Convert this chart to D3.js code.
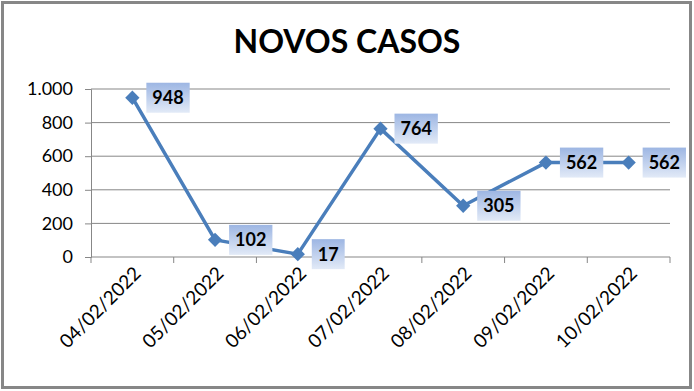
<!DOCTYPE html>
<html>
<head>
<meta charset="utf-8">
<script src="https://cdn.jsdelivr.net/npm/d3@7"></script>
<style>
    body { margin: 0; background: #fff; }
    svg { display: block; }
</style>
</head>
<body>
<div id="chart"></div>
<script>
const dates = ["04/02/2022", "05/02/2022", "06/02/2022", "07/02/2022", "08/02/2022", "09/02/2022", "10/02/2022"];
const casos = [948, 102, 17, 764, 305, 562, 562];
const yTicks = [0, 200, 400, 600, 800, 1000];

const width = 694;
const height = 391;
const font = "Lato, 'Open Sans', sans-serif";

const svg = d3.select("#chart")
    .append("svg")
    .attr("width", width)
    .attr("height", height);

const defs = svg.append("defs");
const grad = defs.append("linearGradient")
    .attr("id", "lblGrad")
    .attr("x1", 0).attr("y1", 0)
    .attr("x2", 0).attr("y2", 1);
grad.append("stop").attr("offset", "0%").attr("stop-color", "#9db6e3");
grad.append("stop").attr("offset", "100%").attr("stop-color", "#e2eaf7");

// outer frame
svg.append("rect")
    .attr("x", 2.5)
    .attr("y", 2.5)
    .attr("width", 688)
    .attr("height", 385)
    .attr("fill", "#fff")
    .attr("stroke", "#878787")
    .attr("stroke-width", 3);

svg.append("text")
    .attr("x", 347)
    .attr("y", 53)
    .attr("text-anchor", "middle")
    .attr("font-family", font)
    .attr("font-weight", "bold")
    .attr("font-size", "32px")
    .attr("fill", "#000")
    .text("NOVOS CASOS");

const plot = { left: 91, right: 670, top: 89, bottom: 257 };

const xScale = d3.scaleBand()
    .domain(dates)
    .range([plot.left, plot.right])
    .padding(0);

const yScale = d3.scaleLinear()
    .domain([0, 1000])
    .range([plot.bottom, plot.top]);

const fmt = d3.formatLocale({ decimal: ",", thousands: ".", grouping: [3], currency: ["", ""] }).format(",d");

// gridlines + y axis
const yAxis = d3.axisLeft(yScale)
    .tickValues(yTicks)
    .tickSize(6)
    .tickPadding(12)
    .tickFormat(fmt);

const yAxisG = svg.append("g")
    .attr("transform", `translate(${plot.left},0)`)
    .call(yAxis);
yAxisG.select(".domain").attr("stroke", "#878787");
yAxisG.selectAll("line").attr("stroke", "#878787");
yAxisG.selectAll("text")
    .attr("font-family", font)
    .attr("font-size", "18px")
    .attr("fill", "#000");

svg.append("g")
    .selectAll("line")
    .data(yTicks)
    .enter().append("line")
    .attr("x1", plot.left)
    .attr("x2", plot.right)
    .attr("y1", d => yScale(d))
    .attr("y2", d => yScale(d))
    .attr("stroke", "#878787")
    .attr("stroke-width", 1);

// x axis ticks at band edges
const edges = dates.map(d => xScale(d)).concat([xScale.range()[1]]);
const xAxisG = svg.append("g");
xAxisG.selectAll("line")
    .data(edges)
    .enter().append("line")
    .attr("x1", d => d)
    .attr("x2", d => d)
    .attr("y1", plot.bottom)
    .attr("y2", plot.bottom + 6)
    .attr("stroke", "#878787");

xAxisG.selectAll("text")
    .data(dates)
    .enter().append("text")
    .attr("transform", d => `translate(${xScale(d) + xScale.bandwidth() / 2 + 5},${plot.bottom + 13}) rotate(-45)`)
    .attr("text-anchor", "end")
    .attr("dy", "0.35em")
    .attr("font-family", font)
    .attr("font-size", "19px")
    .attr("fill", "#000")
    .text(d => d);

const cx = (d, i) => xScale(dates[i]) + xScale.bandwidth() / 2;
const cy = d => yScale(d);

const lineGenerator = d3.line()
    .x((d, i) => cx(d, i))
    .y(d => cy(d));

svg.append("path")
    .attr("fill", "none")
    .attr("stroke", "#4a7ebb")
    .attr("stroke-width", 3.5)
    .attr("stroke-linejoin", "round")
    .attr("d", lineGenerator(casos));

svg.selectAll(".marker")
    .data(casos)
    .enter().append("path")
    .attr("class", "marker")
    .attr("d", d3.symbol().type(d3.symbolDiamond2).size(130))
    .attr("transform", (d, i) => `translate(${cx(d, i)},${cy(d)})`)
    .attr("fill", "#4a7ebb");

// data labels
const labels = svg.selectAll(".lbl")
    .data(casos)
    .enter().append("g")
    .attr("class", "lbl")
    .attr("transform", (d, i) => `translate(${cx(d, i) + 14},${cy(d)})`);

labels.append("rect")
    .attr("y", -15)
    .attr("height", 30)
    .attr("fill", "url(#lblGrad)");

labels.append("text")
    .attr("x", 6)
    .attr("dy", "0.36em")
    .attr("font-family", font)
    .attr("font-weight", "bold")
    .attr("font-size", "18px")
    .attr("fill", "#000")
    .text(d => d);

labels.each(function () {
    const g = d3.select(this);
    const w = g.select("text").node().getComputedTextLength();
    g.select("rect").attr("width", w + 12);
});
</script>
</body>
</html>
